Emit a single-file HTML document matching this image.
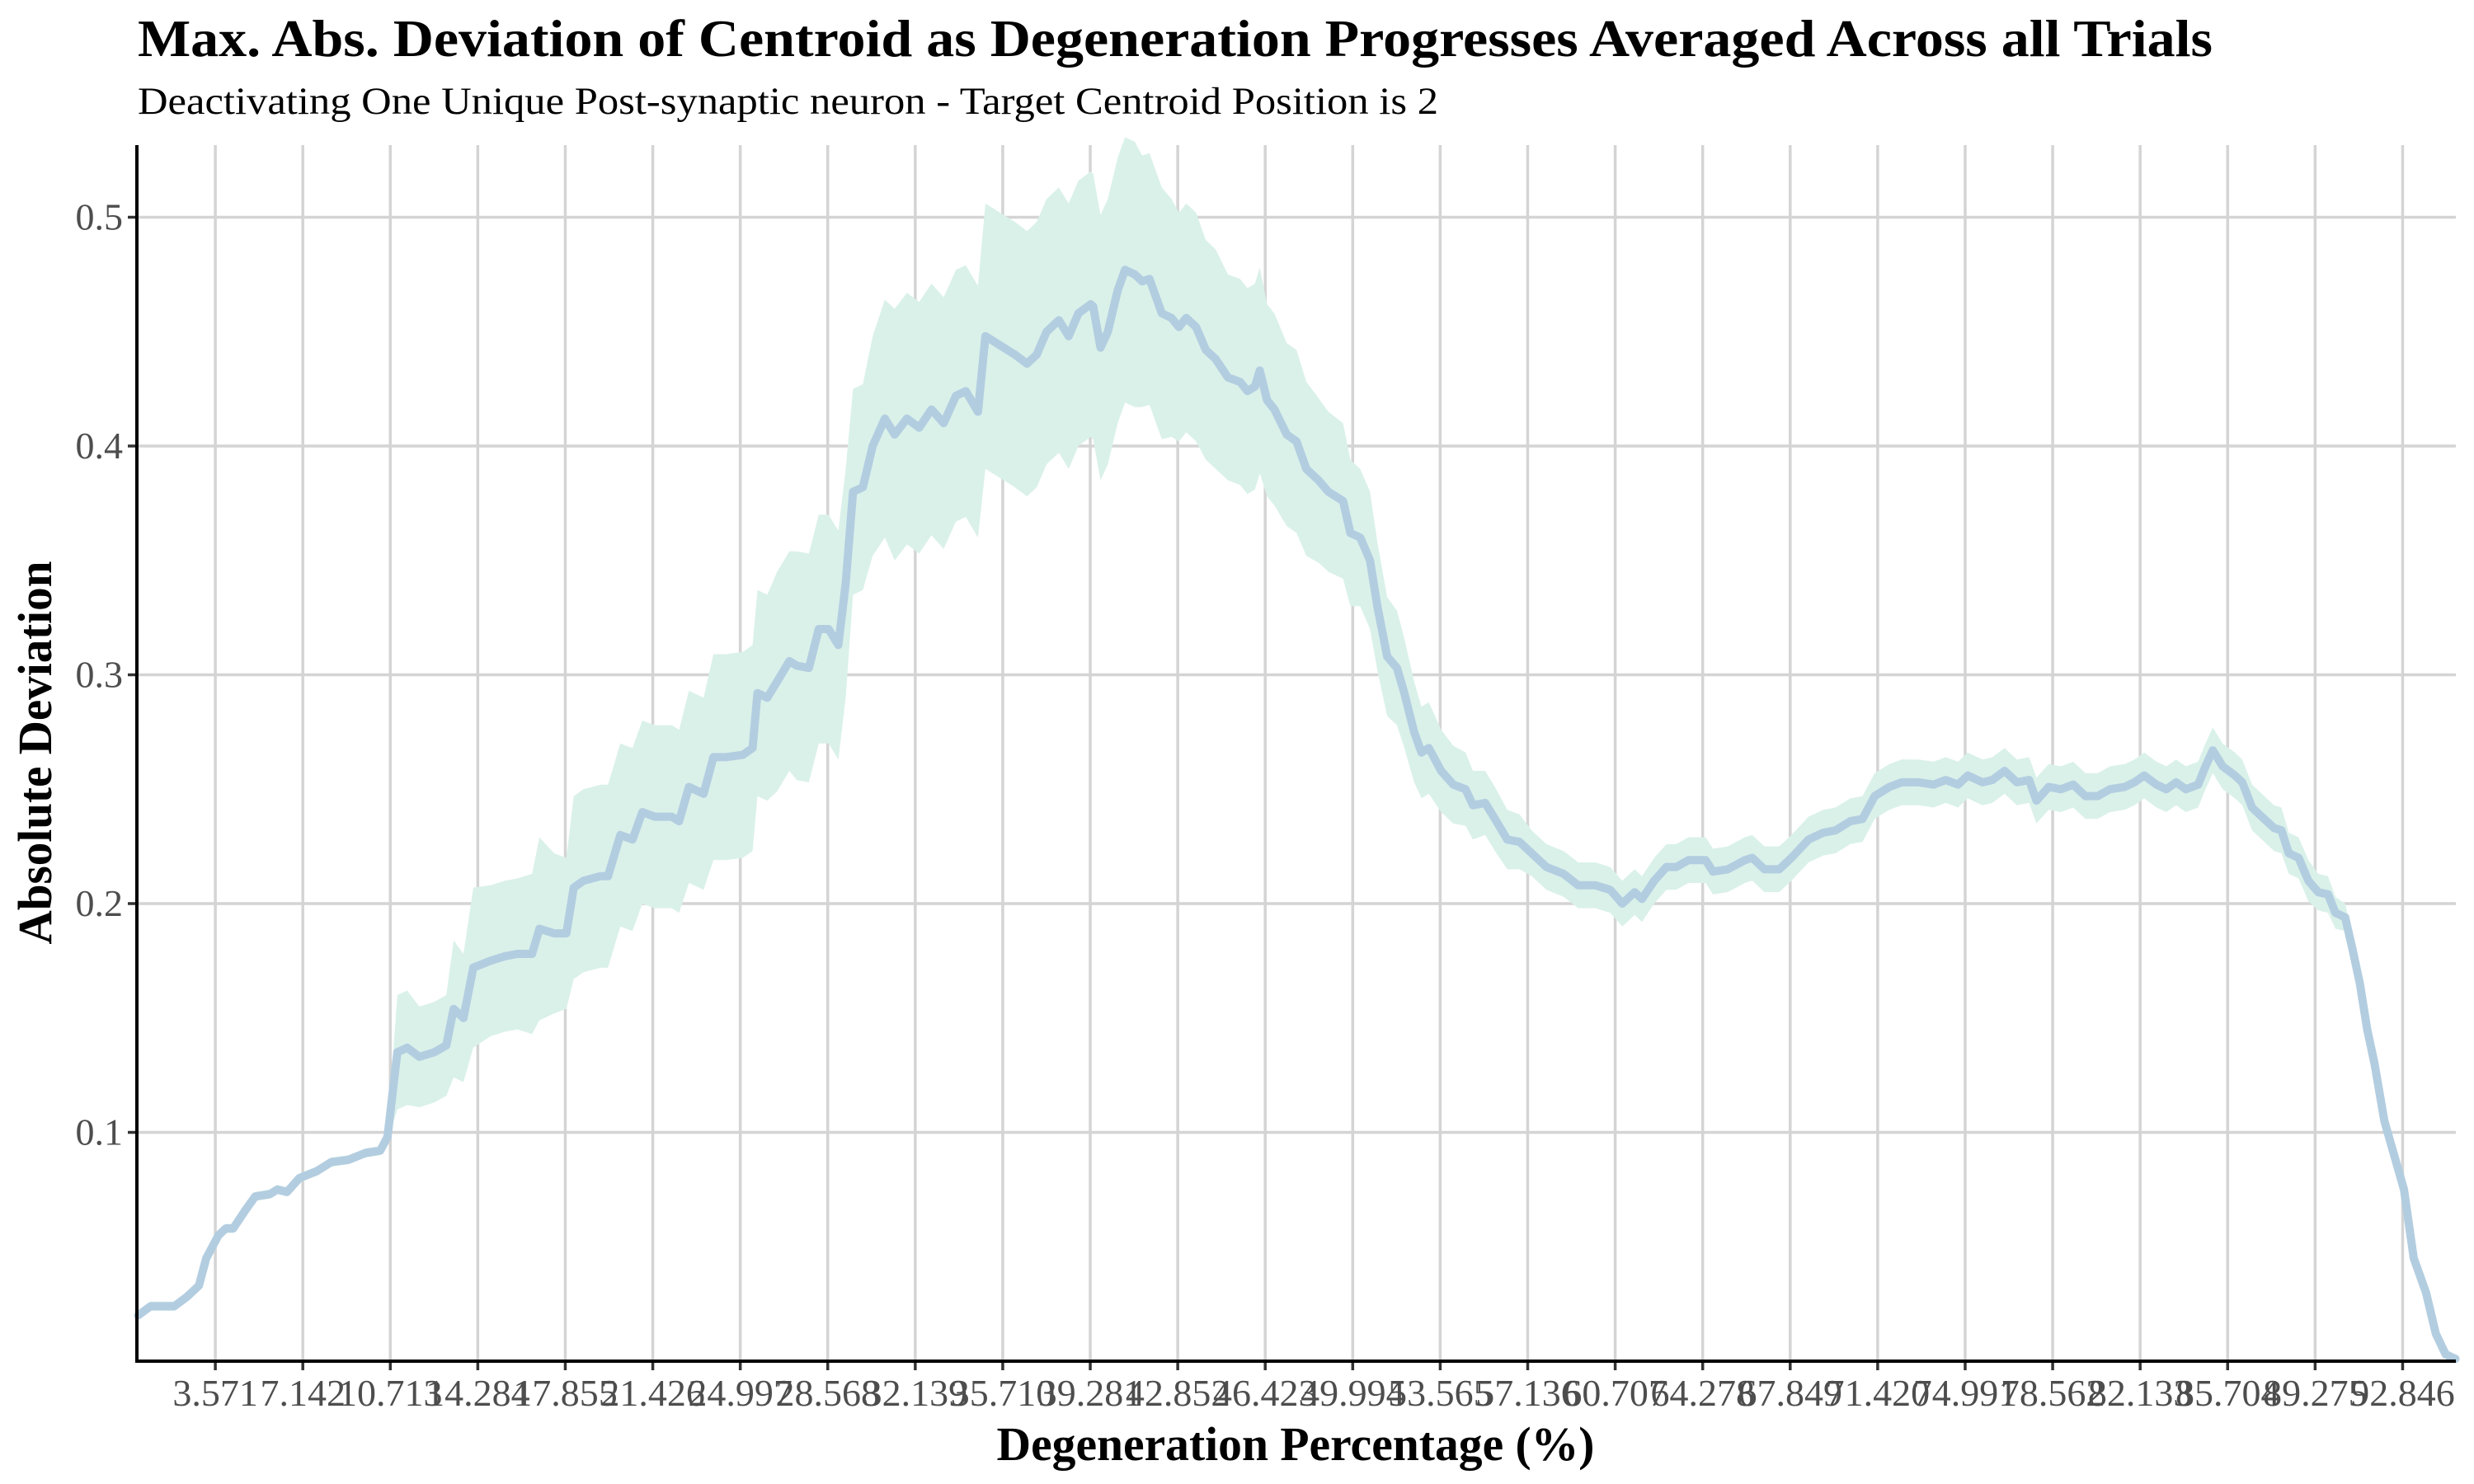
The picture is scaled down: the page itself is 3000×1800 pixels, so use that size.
<!DOCTYPE html>
<html><head><meta charset="utf-8"><style>
html,body{margin:0;padding:0;background:#fff}
svg{display:block;font-family:"Liberation Serif","Times New Roman",serif}
</style></head><body>
<svg id="chart" width="3000" height="1800" viewBox="0 0 3000 1800" xmlns="http://www.w3.org/2000/svg">
<rect width="3000" height="1800" fill="#fff"/>
<text x="167" y="68" font-size="64" font-weight="bold" textLength="2516" lengthAdjust="spacingAndGlyphs">Max. Abs. Deviation of Centroid as Degeneration Progresses Averaged Across all Trials</text>
<text x="167" y="138" font-size="47" textLength="1577" lengthAdjust="spacingAndGlyphs">Deactivating One Unique Post-synaptic neuron - Target Centroid Position is 2</text>
<g id="grid"></g>
<g id="marks"></g>
<g id="axes"></g>
<text x="1571" y="1771" font-size="58" font-weight="bold" text-anchor="middle" textLength="725" lengthAdjust="spacingAndGlyphs">Degeneration Percentage (%)</text>
<text transform="translate(62,913) rotate(-90)" font-size="58" font-weight="bold" text-anchor="middle" textLength="465" lengthAdjust="spacingAndGlyphs">Absolute Deviation</text>
</svg>
<script>
const xTicks = [3.571,7.142,10.713,14.284,17.855,21.426,24.997,28.568,32.139,35.71,39.281,42.852,46.423,49.994,53.565,57.136,60.707,64.278,67.849,71.42,74.991,78.562,82.133,85.704,89.275,92.846];
const xTickLabels = ["3.571","7.142","10.713","14.284","17.855","21.426","24.997","28.568","32.139","35.710","39.281","42.852","46.423","49.994","53.565","57.136","60.707","64.278","67.849","71.420","74.991","78.562","82.133","85.704","89.275","92.846"];
const yTicks = [0.1,0.2,0.3,0.4,0.5];
const yTickLabels = ["0.1","0.2","0.3","0.4","0.5"];
const xs = [
0.42,0.93,1.9,2.4,2.9,3.2,3.7,4.0,4.3,4.8,
5.2,5.8,6.1,6.5,7.0,7.7,8.3,9.0,9.7,10.3,
10.6,11.0,11.4,11.9,12.5,13.0,13.3,13.7,14.1,14.8,
15.4,15.9,16.5,16.8,17.4,17.9,18.2,18.6,19.3,19.6,
20.1,20.6,21.0,21.5,22.2,22.5,22.9,23.5,23.9,24.4,
25.1,25.5,25.7,26.1,26.5,27.0,27.3,27.8,28.2,28.6,
29.0,29.3,29.6,30.0,30.4,30.9,31.3,31.8,32.3,32.8,
33.3,33.8,34.2,34.7,35.0,35.6,36.2,36.7,37.1,37.5,
38.0,38.4,38.8,39.3,39.4,39.7,40.0,40.4,40.7,41.1,
41.4,41.7,42.2,42.6,42.9,43.2,43.6,44.0,44.4,44.9,
45.4,45.7,46.0,46.2,46.5,46.8,47.3,47.7,48.1,48.6,
49.0,49.6,49.9,50.3,50.7,51.0,51.4,51.8,52.1,52.5,
52.8,53.1,53.6,54.1,54.6,54.9,55.4,55.8,56.3,56.8,
57.3,57.9,58.6,59.2,59.9,60.5,61.0,61.5,61.8,62.3,
62.8,63.2,63.7,64.4,64.7,65.3,66.0,66.3,66.8,67.4,
67.9,68.6,69.2,69.7,70.3,70.8,71.3,71.9,72.4,73.1,
73.7,74.2,74.7,75.1,75.7,76.1,76.6,77.1,77.6,77.9,
78.4,78.9,79.4,79.9,80.4,80.9,81.5,81.9,82.3,82.8,
83.2,83.6,84.0,84.5,84.8,85.1,85.5,86.0,86.3,86.7,
87.1,87.6,87.9,88.2,88.6,89.0,89.4,89.8,90.1,90.5,
90.8,91.1,91.4,91.7,92.1,92.5,92.9,93.3,93.8,94.2,
94.6,95.0];
const means = [
0.020,0.024,0.024,0.028,0.033,0.045,0.055,0.058,0.058,0.066,
0.072,0.073,0.075,0.074,0.080,0.083,0.087,0.088,0.091,0.092,
0.098,0.135,0.137,0.133,0.135,0.138,0.154,0.150,0.172,0.175,
0.177,0.178,0.178,0.189,0.187,0.187,0.207,0.210,0.212,0.212,
0.230,0.228,0.240,0.238,0.238,0.236,0.251,0.248,0.264,0.264,
0.265,0.268,0.292,0.290,0.297,0.306,0.304,0.303,0.320,0.320,
0.313,0.340,0.380,0.382,0.400,0.412,0.405,0.412,0.408,0.416,
0.410,0.422,0.424,0.415,0.448,0.444,0.440,0.436,0.440,0.450,
0.455,0.448,0.458,0.462,0.461,0.443,0.450,0.468,0.477,0.475,
0.472,0.473,0.458,0.456,0.452,0.456,0.452,0.442,0.438,0.430,
0.428,0.424,0.426,0.433,0.420,0.416,0.405,0.402,0.390,0.385,
0.380,0.376,0.362,0.360,0.350,0.330,0.308,0.303,0.292,0.275,
0.266,0.268,0.258,0.252,0.250,0.243,0.244,0.237,0.228,0.227,
0.222,0.216,0.213,0.208,0.208,0.206,0.200,0.205,0.202,0.210,
0.216,0.216,0.219,0.219,0.214,0.215,0.219,0.220,0.215,0.215,
0.220,0.228,0.231,0.232,0.236,0.237,0.247,0.251,0.253,0.253,
0.252,0.254,0.252,0.256,0.253,0.254,0.258,0.253,0.254,0.245,
0.251,0.250,0.252,0.247,0.247,0.250,0.251,0.253,0.256,0.252,
0.250,0.253,0.250,0.252,0.260,0.267,0.260,0.256,0.253,0.242,
0.238,0.233,0.232,0.222,0.220,0.210,0.205,0.204,0.196,0.194,
0.180,0.165,0.145,0.130,0.105,0.090,0.075,0.045,0.030,0.012,
0.003,0.001];
const spreads = [
0.002,0.002,0.002,0.002,0.002,0.002,0.002,0.002,0.002,0.002,
0.002,0.002,0.002,0.002,0.002,0.002,0.002,0.002,0.002,0.002,
0.002,0.025,0.025,0.022,0.022,0.022,0.030,0.028,0.035,0.033,
0.033,0.033,0.035,0.040,0.035,0.033,0.040,0.040,0.040,0.040,
0.040,0.040,0.040,0.040,0.040,0.040,0.042,0.042,0.045,0.045,
0.045,0.045,0.045,0.045,0.048,0.048,0.050,0.050,0.050,0.050,
0.050,0.050,0.045,0.045,0.048,0.052,0.055,0.055,0.055,0.055,
0.055,0.055,0.055,0.055,0.058,0.058,0.058,0.058,0.058,0.058,
0.058,0.058,0.058,0.058,0.058,0.058,0.058,0.058,0.058,0.058,
0.055,0.055,0.055,0.052,0.050,0.050,0.050,0.048,0.048,0.045,
0.045,0.045,0.045,0.045,0.042,0.042,0.040,0.040,0.038,0.036,
0.035,0.034,0.032,0.030,0.030,0.028,0.026,0.025,0.024,0.022,
0.020,0.020,0.018,0.017,0.016,0.015,0.014,0.014,0.013,0.012,
0.010,0.010,0.010,0.010,0.010,0.010,0.010,0.010,0.010,0.010,
0.010,0.010,0.010,0.010,0.010,0.010,0.010,0.010,0.010,0.010,
0.010,0.010,0.010,0.010,0.010,0.010,0.010,0.010,0.010,0.010,
0.010,0.010,0.010,0.010,0.010,0.010,0.010,0.010,0.010,0.010,
0.010,0.010,0.010,0.010,0.010,0.010,0.010,0.010,0.010,0.010,
0.010,0.010,0.010,0.010,0.010,0.010,0.010,0.010,0.010,0.010,
0.010,0.010,0.010,0.009,0.009,0.009,0.008,0.008,0.007,0.006,
0.005,0.004,0.004,0.004,0.003,0.003,0.003,0.002,0.002,0.002,
0.001,0.001];

const NS = "http://www.w3.org/2000/svg";
const PL = 166, PR = 2978, PT = 176, PB = 1651;
const X = v => 155 + v * 29.71;
const Y = v => PB - v * 2775;
function mk(tag, attrs, parent) {
  const e = document.createElementNS(NS, tag);
  for (const k in attrs) e.setAttribute(k, attrs[k]);
  parent.appendChild(e);
  return e;
}
const grid = document.getElementById('grid');
const marks = document.getElementById('marks');
const axes = document.getElementById('axes');

yTicks.forEach((t, i) => {
  const l = mk('line', {x1: PL, x2: PR, y1: Y(t), y2: Y(t), stroke: '#d4d4d4', 'stroke-width': 3.5}, grid);
  
  
  const tk = mk('line', {x1: 155, x2: PL, y1: Y(t), y2: Y(t), stroke: '#333', 'stroke-width': 3.5}, axes);
  
  
  const tx = mk('text', {x: 149, y: Y(t) + 15, 'font-size': 46, fill: '#4d4d4d', 'text-anchor': 'end'}, axes);
  tx.textContent = yTickLabels[i];
  
  
});
xTicks.forEach((t, i) => {
  const l = mk('line', {x1: X(t), x2: X(t), y1: PT, y2: PB, stroke: '#d4d4d4', 'stroke-width': 3.5}, grid);
  
  
  const tk = mk('line', {x1: X(t), x2: X(t), y1: PB, y2: PB + 11, stroke: '#333', 'stroke-width': 3.5}, axes);
  
  
  const tx = mk('text', {x: X(t), y: 1705, 'font-size': 46, fill: '#4d4d4d', 'text-anchor': 'middle'}, axes);
  tx.textContent = xTickLabels[i];
  
  
});

let up = [], lo = [];
xs.forEach((x, i) => {
  up.push(X(x).toFixed(1) + ',' + Y(means[i] + spreads[i]).toFixed(1));
  lo.push(X(x).toFixed(1) + ',' + Y(Math.max(0, means[i] - spreads[i])).toFixed(1));
});
const rib = mk('polygon', {points: up.concat(lo.reverse()).join(' '), fill: '#daf1ea'}, marks);


const pts = xs.map((x, i) => X(x).toFixed(1) + ',' + Y(means[i]).toFixed(1)).join(' ');
const line = mk('polyline', {points: pts, fill: 'none', stroke: '#b3cde0', 'stroke-width': 10, 'stroke-linejoin': 'round', 'stroke-linecap': 'round'}, marks);



const ya = mk('line', {x1: PL, x2: PL, y1: PT, y2: PB + 2, stroke: '#000', 'stroke-width': 4}, axes);


const xa = mk('line', {x1: PL - 2, x2: PR, y1: PB, y2: PB, stroke: '#000', 'stroke-width': 4}, axes);


</script>
</body></html>
